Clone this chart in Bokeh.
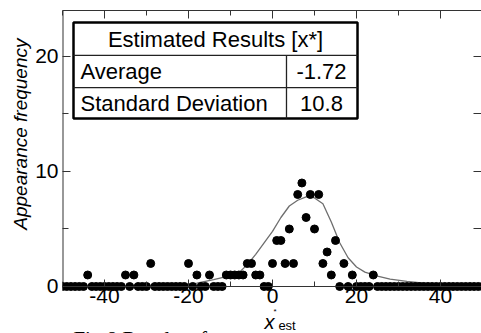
from bokeh.plotting import figure
from bokeh.models import Range1d, LinearAxis, FixedTicker, Title
from bokeh.core.properties import value
from bokeh.embed import file_html
from bokeh.resources import INLINE

# ---- data ----
bins = list(range(-50, 51))
counts = [
    0, 0, 0, 0, 0, 0,            # -50..-45
    1,                           # -44
    0, 0, 0, 0, 0, 0, 0, 0,      # -43..-36
    1, 0, 1,                     # -35..-33
    0, 0, 0,                     # -32..-30
    2,                           # -29
    0, 0, 0, 0, 0, 0, 0, 0,      # -28..-21
    2, 0, 1, 0, 0, 1,            # -20..-15
    0, 0, 0,                     # -14..-12
    1, 1, 1, 1, 1,               # -11..-7
    2, 2, 1, 1,                  # -6..-3
    0, 0,                        # -2..-1
    2,                           # 0
    4, 4, 2, 5, 2, 8, 9, 6, 8, 5, 8, 2, 3, 1, 4,   # 1..15
    0, 2, 0, 1,                  # 16..19
    0, 0, 0, 0,                  # 20..23
    1,                           # 24
    0, 0, 0, 0, 0, 0, 0, 0, 0, 0, 0, 0, 0,   # 25..37
    0, 0, 0, 0, 0, 0, 0, 0, 0, 0, 0, 0, 0,   # 38..50
]

curve_x = [-22, -18, -14, -10, -8, -6, -4, -2, 0, 2, 4, 6, 8, 9, 10, 12, 14, 16, 18, 20, 22, 25, 28, 32, 36, 40, 44, 48]
curve_y = [0.05, 0.3, 0.6, 0.95, 1.2, 1.9, 2.8, 3.8, 4.8, 6.0, 7.0, 7.5, 7.8, 7.8, 7.7, 7.2, 5.6, 3.8, 2.5, 1.7, 1.25, 0.9, 0.65, 0.45, 0.3, 0.2, 0.1, 0.05]

x_ticks = [-40, -20, 0, 20, 40]
x_tick_labels = ["-40", "-20", "0", "20", "40"]
x_minor = [-50, -30, -10, 10, 30, 50]
y_ticks = [0, 10, 20]
y_tick_labels = ["0", "10", "20"]
y_minor = [5, 15]

table_title = "Estimated Results [x*]"
table_rows = ["Average", "Standard Deviation"]
table_values = ["-1.72", "10.8"]

y_label = "Appearance frequency"
x_label_main = "x"
x_label_sup = "*"
x_label_sub = "est"
caption = "Fig.8 Results of"

FONT = "Liberation Sans"
AX = "#333333"

p = figure(width=481, height=333,
           x_range=Range1d(-50, 49.76), y_range=Range1d(-4.087, 24),
           output_backend="svg", toolbar_location=None,
           min_border_left=62, min_border_right=0, min_border_top=10, min_border_bottom=0)
p.outline_line_color = None
p.xgrid.visible = False
p.ygrid.visible = False

xa = p.xaxis[0]
xa.fixed_location = 0
xa.ticker = FixedTicker(ticks=x_ticks, minor_ticks=x_minor)
xa.major_label_overrides = {t: s for t, s in zip(x_ticks, x_tick_labels)}
xa.axis_line_color = AX
xa.major_tick_in = 7
xa.major_tick_out = 0
xa.minor_tick_in = 5
xa.minor_tick_out = 0
xa.major_tick_line_color = AX
xa.minor_tick_line_color = AX
xa.major_label_standoff = 3
xa.major_label_text_font = FONT
xa.major_label_text_font_size = "21px"
xa.major_label_text_color = "black"

ya = p.yaxis[0]
ya.ticker = FixedTicker(ticks=y_ticks, minor_ticks=y_minor)
ya.major_label_overrides = {t: s for t, s in zip(y_ticks, y_tick_labels)}
ya.axis_line_color = None
ya.major_tick_in = 8
ya.major_tick_out = 0
ya.minor_tick_in = 6
ya.minor_tick_out = 0
ya.major_tick_line_color = AX
ya.minor_tick_line_color = AX
ya.major_label_standoff = 4
ya.major_label_text_font = FONT
ya.major_label_text_font_size = "21px"
ya.major_label_text_color = "black"

top = LinearAxis(ticker=FixedTicker(ticks=x_ticks, minor_ticks=x_minor),
                 major_label_overrides={t: "" for t in x_ticks},
                 major_label_text_font_size="0px", major_label_standoff=0,
                 axis_line_color=AX, major_tick_in=8, major_tick_out=0,
                 minor_tick_in=5, minor_tick_out=0,
                 major_tick_line_color=AX, minor_tick_line_color=AX)
p.add_layout(top, "above")

right = LinearAxis(ticker=FixedTicker(ticks=y_ticks, minor_ticks=y_minor),
                   major_label_overrides={t: "" for t in y_ticks},
                   major_label_text_font_size="0px", major_label_standoff=0,
                   axis_line_color=None, major_tick_in=8, major_tick_out=0,
                   minor_tick_in=8, minor_tick_out=0,
                   major_tick_line_color=AX, minor_tick_line_color=AX)
p.add_layout(right, "right")

p.add_layout(Title(text=y_label, align="right", offset=28, text_font=FONT,
                   text_font_style="italic", text_font_size="19px",
                   text_color="black", standoff=4), "left")

# left spine (from the baseline up to the top of the frame)
p.segment(x0=[-50], y0=[-0.3], x1=[-50], y1=[24], line_color=AX, line_width=2)

p.line(curve_x, curve_y, line_color="#6e6e6e", line_width=1.3)
p.scatter(bins, counts, size=8, color="black")

# table
tl, tr, tm = -47.38, 20.24, 3.33
tb, tt, r1, r2 = 14.6, 22.96, 20.09, 17.3
p.quad(left=[tl], right=[tr], bottom=[tb], top=[tt], fill_color="white",
       line_color="black", line_width=2.5)
p.segment(x0=[tl, tl, tm], y0=[r1, r2, tb], x1=[tr, tr, tm], y1=[r1, r2, r1],
          line_color="#222222", line_width=1.3)
p.text(x=[-13.57], y=[21.48], text=[table_title], text_align="center",
       text_baseline="middle", text_font=value(FONT), text_font_size="22px", text_color="black")
p.text(x=[-45.71, -45.71], y=[18.66, 15.93], text=table_rows, text_align="left",
       text_baseline="middle", text_font=value(FONT), text_font_size="22px", text_color="black")
p.text(x=[11.67, 11.67], y=[18.66, 15.93], text=table_values, text_align="center",
       text_baseline="middle", text_font=value(FONT), text_font_size="22px", text_color="black")

# x axis title (x* with subscript "est")
p.text(x=[-0.7], y=[-3.05], text=[x_label_main], text_align="center", text_baseline="middle",
       text_font=value(FONT), text_font_style="italic", text_font_size="20px", text_color="black")
p.text(x=[0.6], y=[-2.2], text=[x_label_sup], text_align="center", text_baseline="middle",
       text_font=value(FONT), text_font_size="8px", text_color="black")
p.text(x=[1.4], y=[-3.35], text=[x_label_sub], text_align="left", text_baseline="middle",
       text_font=value(FONT), text_font_size="13px", text_color="black")

# figure caption, cut by the bottom edge as in the reference
p.text(x=[-47.4], y=[-3.55], text=[caption], text_align="left", text_baseline="top",
       text_font=value("Liberation Serif"), text_font_size="21px", text_color="black")

open("out.html", "w").write(file_html(p, INLINE))
